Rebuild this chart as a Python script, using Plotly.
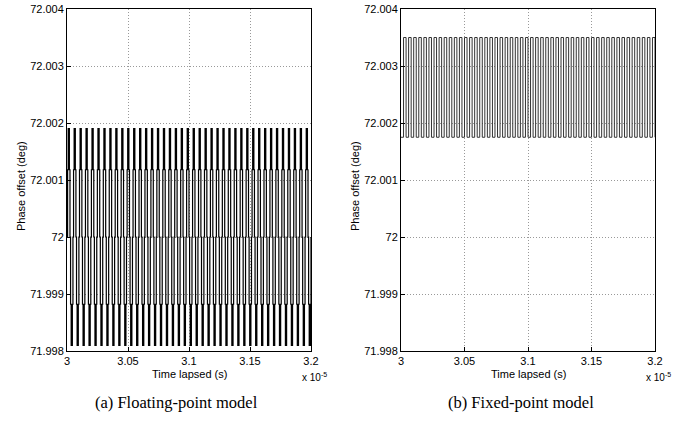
import numpy as np
import plotly.graph_objects as go

# ---- data ----
x_start = 3.0e-5
x_end = 3.2e-5
x_tick_vals = [3.0e-5, 3.05e-5, 3.1e-5, 3.15e-5, 3.2e-5]
x_tick_text = ["3", "3.05", "3.1", "3.15", "3.2"]
y_tick_vals = [71.998, 71.999, 72.0, 72.001, 72.002, 72.003, 72.004]
y_tick_text = ["71.998", "71.999", "72", "72.001", "72.002", "72.003", "72.004"]

# one cycle of the stepped phase-offset waveform (deg)
float_cycle_levels = [72.0, 72.00118, 72.0019, 72.0019, 72.00118,
                      72.0, 71.99882, 71.9981, 71.9981, 71.99882]
float_cycles = 41
fixed_cycle_levels = [72.00175, 72.0035]
fixed_cycles = 50

float_y = np.tile(float_cycle_levels, float_cycles)
float_y = np.append(float_y, float_cycle_levels[0])
float_t = np.linspace(x_start, x_end, len(float_y))
fixed_y = np.tile(fixed_cycle_levels, fixed_cycles)
fixed_y = np.append(fixed_y, fixed_cycle_levels[0])
fixed_t = np.linspace(x_start, x_end, len(fixed_y))

W, H = 685, 423
FONT = "Liberation Sans, Arial, sans-serif"
SERIF = "Liberation Serif, Times New Roman, serif"

fig = go.Figure()
fig.add_trace(go.Scatter(x=float_t, y=float_y, mode="lines", line_shape="hv",
                         line=dict(color="black", width=1.2), xaxis="x", yaxis="y",
                         showlegend=False, hoverinfo="skip"))
fig.add_trace(go.Scatter(x=fixed_t, y=fixed_y, mode="lines", line_shape="hv",
                         line=dict(color="#333333", width=1), xaxis="x2", yaxis="y2",
                         showlegend=False, hoverinfo="skip"))

left_px = (67, 311)
right_px = (401, 655)
top_px, bot_px = 9, 351
ydom = [(H - bot_px) / H, (H - top_px) / H]

def xaxis_cfg(dom):
    return dict(domain=dom, range=[x_start, x_end], tickvals=x_tick_vals, ticktext=x_tick_text,
                showgrid=True, gridcolor="#999999", griddash="1px,2px", gridwidth=1,
                ticks="inside", ticklen=4, tickcolor="black", showline=True, linecolor="black",
                linewidth=1, mirror=True, zeroline=False, automargin=False,
                tickfont=dict(family=FONT, size=11, color="black"))

def yaxis_cfg(anchor):
    return dict(domain=ydom, range=[71.998, 72.004], tickvals=y_tick_vals, ticktext=y_tick_text,
                showgrid=True, gridcolor="#999999", griddash="1px,2px", gridwidth=1,
                ticks="inside", ticklen=4, tickcolor="black", showline=True, linecolor="black",
                linewidth=1, mirror=True, zeroline=False, anchor=anchor, automargin=False,
                tickfont=dict(family=FONT, size=11, color="black"))

fig.update_layout(
    template="none",
    width=W, height=H, margin=dict(l=0, r=0, t=0, b=0, pad=0, autoexpand=False),
    paper_bgcolor="white", plot_bgcolor="white",
    xaxis=dict(xaxis_cfg([left_px[0] / W, left_px[1] / W]), anchor="y"),
    yaxis=yaxis_cfg("x"),
    xaxis2=dict(xaxis_cfg([right_px[0] / W, right_px[1] / W]), anchor="y2"),
    yaxis2=yaxis_cfg("x2"),
)

ann = []
for (l, r), cap, capx in [(left_px, "(a) Floating-point model", 176),
                          (right_px, "(b) Fixed-point model", 521)]:
    cx = (l + r) / 2
    ann.append(dict(x=cx / W, y=1 - 374 / H, xref="paper", yref="paper", text="Time lapsed (s)",
                    showarrow=False, font=dict(family=FONT, size=11, color="black"),
                    xanchor="center", yanchor="middle"))
    ann.append(dict(x=(r - 11) / W, y=1 - 377 / H, xref="paper", yref="paper",
                    text="x 10<sup>-5</sup>", showarrow=False,
                    font=dict(family=FONT, size=10, color="black"), xanchor="left", yanchor="middle"))
    ann.append(dict(x=capx / W, y=1 - 402 / H, xref="paper", yref="paper", text=cap,
                    showarrow=False, font=dict(family=SERIF, size=16.5, color="black"),
                    xanchor="center", yanchor="middle"))
    ann.append(dict(x=(l - 46) / W, y=1 - 186 / H, xref="paper", yref="paper",
                    text="Phase offset (deg)", textangle=-90, showarrow=False,
                    font=dict(family=FONT, size=11, color="black"), xanchor="center", yanchor="middle"))
fig.update_layout(annotations=ann)

fig.write_html("out.html", config={"displayModeBar": False},
               post_script="document.body.style.margin='0';")
